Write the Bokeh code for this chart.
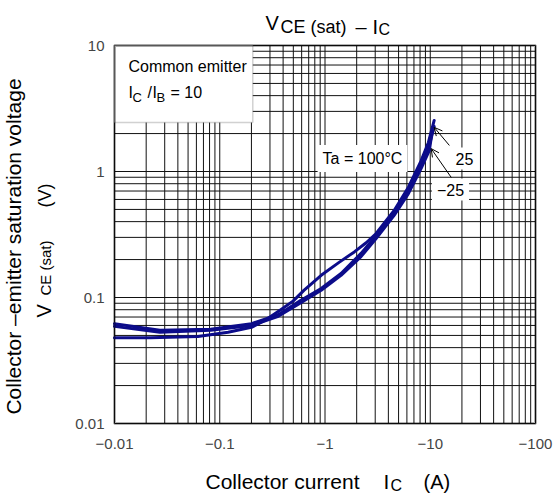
import math
from bokeh.plotting import figure
from bokeh.models import Range1d, Label, BoxAnnotation, Arrow, OpenHead
from bokeh.embed import file_html
from bokeh.resources import INLINE

# ---- data ----
IC_100 = [-0.01, -0.022, -0.062, -0.12, -0.2, -0.27, -0.38, -0.5, -0.63, -0.92,
          -1.36, -1.9, -2.46, -3.06, -4.54, -6.2, -8.2, -9.6, -10.9]
VCE_100 = [0.048, 0.048, 0.049, 0.053, 0.058, 0.066, 0.080, 0.094, 0.114, 0.150,
           0.190, 0.230, 0.272, 0.322, 0.49, 0.75, 1.22, 1.70, 2.54]

IC_25 = [-0.01, -0.027, -0.082, -0.2, -0.36, -0.59, -0.92, -1.42, -2.2, -3.06,
         -4.54, -6.2, -8.2, -9.8, -10.9]
VCE_25 = [0.062, 0.055, 0.056, 0.062, 0.073, 0.095, 0.118, 0.155, 0.224, 0.31,
          0.473, 0.72, 1.16, 1.61, 2.28]

IC_M25 = [-0.01, -0.027, -0.082, -0.2, -0.36, -0.59, -0.92, -1.42, -2.2, -3.06,
          -4.54, -6.2, -8.2, -9.8, -10.4]
VCE_M25 = [0.059, 0.053, 0.055, 0.060, 0.071, 0.091, 0.114, 0.150, 0.211, 0.294,
           0.448, 0.668, 1.06, 1.47, 2.04]

X_TICKS = [0.01, 0.1, 1, 10, 100]
X_TICK_LABELS = ["−0.01", "−0.1", "−1", "−10", "−100"]
Y_TICKS = [0.01, 0.1, 1, 10]
Y_TICK_LABELS = ["0.01", "0.1", "1", "10"]

FONT = "Liberation Sans"
CURVE = "#0c0c8a"

# plot-area placement on the 556x499 canvas
W, H = 556, 499
L, T, R, B = 114, 45, 535, 423
XMIN, XMAX, YMIN, YMAX = 0.01, 100.0, 0.01, 10.0
px_per_dec_x = (R - L) / (math.log10(XMAX) - math.log10(XMIN))
px_per_dec_y = (B - T) / (math.log10(YMAX) - math.log10(YMIN))
x_lo = 10 ** (math.log10(XMIN) - L / px_per_dec_x)
x_hi = 10 ** (math.log10(XMIN) + (W - L) / px_per_dec_x)
y_lo = 10 ** (math.log10(YMIN) - (H - B) / px_per_dec_y)
y_hi = 10 ** (math.log10(YMIN) + B / px_per_dec_y)

p = figure(width=W, height=H, x_axis_type="log", y_axis_type="log",
           x_range=Range1d(x_lo, x_hi), y_range=Range1d(y_lo, y_hi),
           output_backend="svg", toolbar_location=None, title=None,
           x_axis_location=None, y_axis_location=None)
p.min_border = 0
p.min_border_left = 0
p.min_border_right = 0
p.min_border_top = 0
p.min_border_bottom = 0
p.outline_line_color = None
p.background_fill_color = "white"
p.border_fill_color = "white"
p.xgrid.visible = False
p.ygrid.visible = False

# grid lines (every 1..9 x decade)
gx = [m * 10.0 ** k for k in range(-2, 2) for m in range(1, 10)] + [100.0]
gy = [m * 10.0 ** k for k in range(-2, 1) for m in range(1, 10)] + [10.0]
p.segment(x0=gx, y0=[YMIN] * len(gx), x1=gx, y1=[YMAX] * len(gx),
          line_color="#111111", line_width=1)
p.segment(x0=[XMIN] * len(gy), y0=gy, x1=[XMAX] * len(gy), y1=gy,
          line_color="#111111", line_width=1)

# curves (log axis uses |IC|)
for ic, v in ((IC_100, VCE_100), (IC_25, VCE_25), (IC_M25, VCE_M25)):
    p.line([-c for c in ic], v, line_color=CURVE, line_width=3,
           line_join="round", line_cap="round")

# legend box (Common emitter)
p.add_layout(BoxAnnotation(left=XMIN, right=0.206, top=YMAX, bottom=2.45,
                           fill_color="white", fill_alpha=1.0,
                           line_color="#666666", line_width=1.5))
# plot frame
p.add_layout(BoxAnnotation(left=XMIN, right=XMAX, top=YMAX, bottom=YMIN,
                           fill_alpha=0.0, line_color="black", line_width=3))

MID = 0.35  # cap-centre offset from baseline, in em


def txt(px, py, s, size, align="left", angle=0.0, color="black", bg=None, pad=0,
        centred=False):
    """(px, py): canvas pixel of the text baseline start (or cap centre if centred)."""
    kw = {}
    if bg:
        kw["background_fill_color"] = bg
        kw["padding"] = pad
    if centred:
        cx, cy = px, py
    elif angle:
        cx, cy = px - MID * size, py
    else:
        cx, cy = px, py - MID * size
    p.add_layout(Label(x=cx, y=H - cy, x_units="screen", y_units="screen", text=s,
                       text_font=FONT, text_font_size=f"{size}px", text_align=align,
                       text_baseline="middle", angle=angle, text_color=color, **kw))


# tick labels
for t, s in zip(X_TICKS, X_TICK_LABELS):
    p.add_layout(Label(x=t, y=YMIN, text=s, y_offset=-20, text_align="center",
                       text_baseline="middle", text_font=FONT, text_font_size="15px"))
for t, s in zip(Y_TICKS, Y_TICK_LABELS):
    p.add_layout(Label(x=XMIN, y=t, text=s, x_offset=-10, text_align="right",
                       text_baseline="middle", text_font=FONT, text_font_size="15px"))

# title  V_CE (sat) – I_C
txt(265, 29, "V", 20)
txt(280, 33, "CE (sat)", 18)
txt(355, 33, "–", 20)
txt(372, 33, "I", 20)
txt(378, 35, "C", 16)

# legend text
txt(128, 72, "Common emitter", 16)
txt(128, 98, "I", 16)
txt(132, 102, "C", 13)
txt(147, 98, "/", 16)
txt(152, 98, "I", 16)
txt(156, 102, "B", 13)
txt(170, 98, "= 10", 16)

# curve labels
txt(362, 158, "Ta = 100°C", 16, align="center", bg="white", pad=5, centred=True)
txt(464, 158, "25", 16, align="center", bg="white", pad=5, centred=True)
txt(450, 189, "−25", 16, align="center", bg="white", pad=5, centred=True)

# arrows
p.add_layout(Arrow(end=OpenHead(size=8, line_width=1, line_color="black"),
                   x_start=15.2, y_start=1.61, x_end=10.9, y_end=2.24,
                   line_color="black", line_width=1))
p.add_layout(Arrow(end=OpenHead(size=8, line_width=1, line_color="black"),
                   x_start=15.85, y_start=0.896, x_end=10.2, y_end=1.52,
                   line_color="black", line_width=1))

# y-axis label (two rotated lines)
rot = math.pi / 2
txt(20, 246, "Collector –emitter saturation voltage", 21, align="center", angle=rot)
txt(50, 317, "V", 20, angle=rot)
txt(50, 295, "CE (sat)", 15, angle=rot)
txt(51, 207, "(V)", 18, angle=rot)

# x-axis label
txt(205, 488, "Collector current", 21)
txt(383, 488, "I", 21)
txt(390, 491, "C", 16)
txt(423, 488, "(A)", 20)

open("out.html", "w").write(file_html(p, INLINE))
